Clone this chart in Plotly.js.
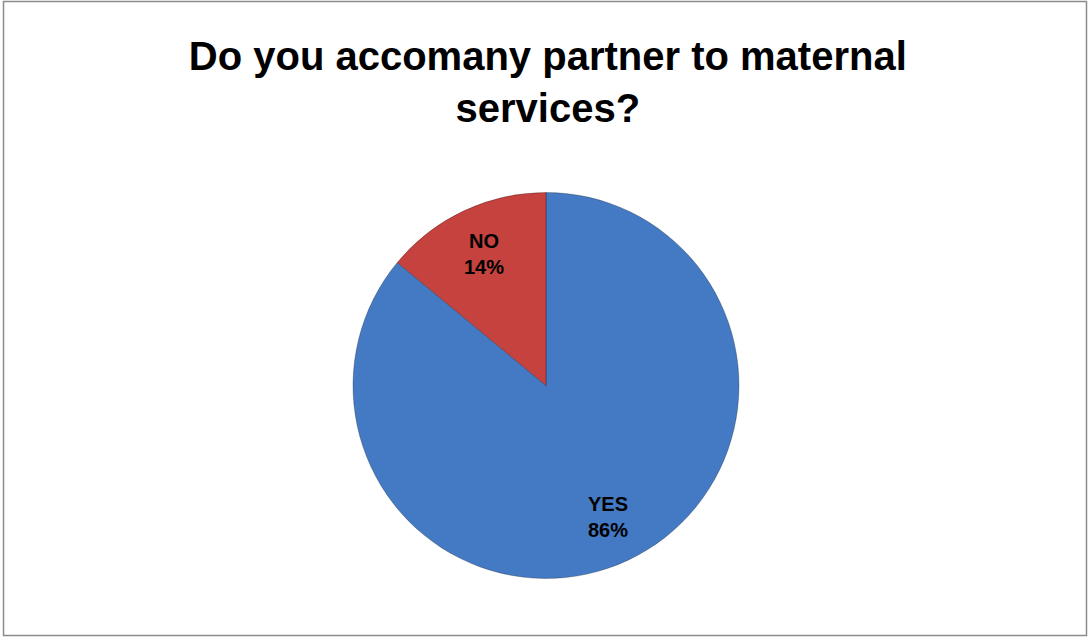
<!DOCTYPE html>
<html>
<head>
<meta charset="utf-8">
<script src="https://cdn.plot.ly/plotly-3.0.1.min.js"></script>
<style>
html,body{margin:0;padding:0;background:#fff;}
#chart{width:1089px;height:637px;}
</style>
</head>
<body>
<div id="chart"></div>
<script>
const titleText = "Do you accomany partner to maternal<br>services?";
const categories = ["YES", "NO"];
const values = [86, 14];
const colors = ["#4479C4", "#C5423F"];

const font = "'Liberation Sans Narrow', 'Arial Narrow', 'Liberation Sans', Arial, sans-serif";

const W = 1089, H = 637;
const cx = 546, cy = 385.5, R = 193;
const labelRadius = 0.755;

// label positions derived from the data (clockwise from 12 o'clock)
const total = values.reduce((a, b) => a + b, 0);
let cum = 0;
const annotations = categories.map((c, i) => {
  const mid = (cum + values[i] / 2) / total * 2 * Math.PI;
  cum += values[i];
  const px = cx + labelRadius * R * Math.sin(mid);
  const py = cy - labelRadius * R * Math.cos(mid);
  return {
    xref: "paper", yref: "paper",
    x: px / W, y: 1 - py / H,
    xanchor: "center", yanchor: "middle",
    showarrow: false,
    text: "<b>" + c + "<br>" + values[i] + "%</b>",
    font: {family: font, size: 20, color: "#000"}
  };
});

const data = [{
  type: "pie",
  labels: categories,
  values: values,
  sort: false,
  direction: "clockwise",
  rotation: 0,
  marker: {colors: colors, line: {color: "rgba(0,0,0,0.25)", width: 1}},
  textinfo: "none",
  hoverinfo: "label+percent",
  showlegend: false,
  domain: {x: [(cx - R) / W, (cx + R) / W], y: [(H - cy - R) / H, (H - cy + R) / H]}
}];

const layout = {
  width: W, height: H,
  margin: {l: 0, r: 0, t: 0, b: 0},
  paper_bgcolor: "#fff",
  title: {
    text: "<b>" + titleText + "</b>",
    font: {family: font, size: 40, color: "#000"},
    x: 0.503, xanchor: "center",
    y: 1 - 70 / H, yanchor: "top"
  },
  annotations: annotations,
  shapes: [{
    type: "rect", xref: "paper", yref: "paper",
    x0: 3.5 / W, x1: (W - 2.5) / W, y0: 1.5 / H, y1: (H - 1.5) / H,
    line: {color: "#8c8c8c", width: 1.5}
  }]
};

Plotly.newPlot("chart", data, layout, {displayModeBar: false, staticPlot: true});
</script>
</body>
</html>
